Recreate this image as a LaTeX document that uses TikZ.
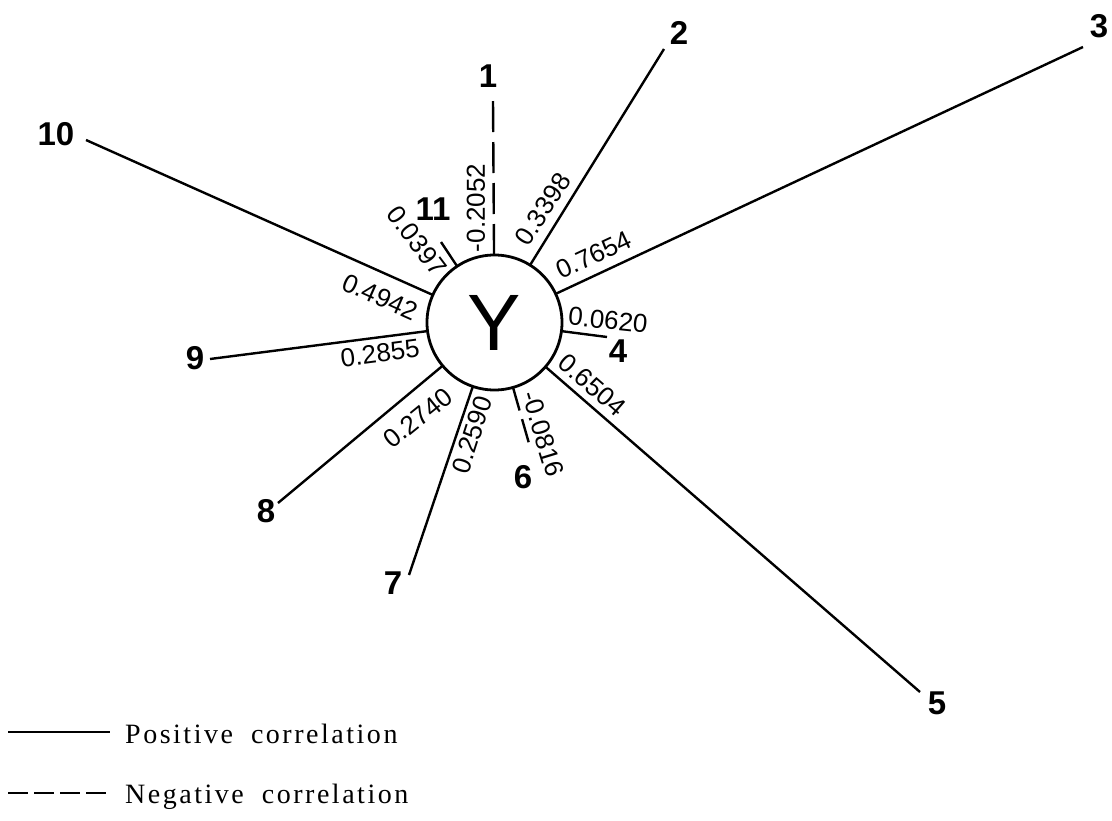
\documentclass[tikz,border=0pt]{standalone}
\usepackage{fontspec}
\setmainfont{Liberation Serif}
\newfontfamily\arialfont{Liberation Sans}
\begin{document}
\begin{tikzpicture}[x=1pt,y=-1pt,
  link/.style={line width=2.4pt},
  neglink/.style={link, dash pattern=on 31pt off 10pt},
  varlabel/.style={font=\arialfont\bfseries\fontsize{33}{33}\selectfont, inner sep=0pt},
  coef/.style={font=\arialfont\fontsize{26}{26}\selectfont, inner sep=0pt},
  legendtext/.style={font=\fontsize{28}{30}\selectfont\addfontfeatures{LetterSpace=9}, anchor=base west, inner sep=0pt}]

\useasboundingbox (0,0) rectangle (1112,821);

% central response variable
\node[draw, circle, line width=2.8pt, minimum size=135pt, inner sep=0pt, outer sep=0pt,
      font=\arialfont\fontsize{80}{80}\selectfont] (Y) at (494.5,322.5) {Y};

% outer ends of the spokes
\coordinate (e1) at (493,100);
\coordinate (e2) at (664,49);
\coordinate (e3) at (1083,47);
\coordinate (e4) at (607,337);
\coordinate (e5) at (920,692);
\coordinate (e6) at (530,447);
\coordinate (e7) at (409,575);
\coordinate (e8) at (278,503);
\coordinate (e9) at (210,359);
\coordinate (e10) at (86,140);
\coordinate (e11) at (441,242);

% factor numbers
\node[varlabel] (n1) at (488,76) {1};
\node[varlabel] (n2) at (679,33) {2};
\node[varlabel] (n3) at (1099,26) {3};
\node[varlabel] (n4) at (618,351) {4};
\node[varlabel] (n5) at (937,703) {5};
\node[varlabel] (n6) at (523,477) {6};
\node[varlabel] (n7) at (393,583) {7};
\node[varlabel] (n8) at (266,511) {8};
\node[varlabel] (n9) at (195,358) {9};
\node[varlabel] (n10) at (56,134) {10};
\node[varlabel] (n11) at (433,209) {11};

% spokes: solid = positive, dashed = negative
\draw[neglink] (Y) -- (e1);
\draw[link] (Y) -- (e2);
\draw[link] (Y) -- (e3);
\draw[link] (Y) -- (e4);
\draw[link] (Y) -- (e5);
\draw[neglink, dash pattern=on 24pt off 9pt] (Y) -- (e6);
\draw[link] (Y) -- (e7);
\draw[link] (Y) -- (e8);
\draw[link] (Y) -- (e9);
\draw[link] (Y) -- (e10);
\draw[link] (Y) -- (e11);

% correlation coefficients
\node[coef, rotate=90] (c1) at (476,208) {-0.2052};
\node[coef, rotate=57] (c2) at (543,209) {0.3398};
\node[coef, rotate=25] (c3) at (594,255) {0.7654};
\node[coef, rotate=-6] (c4) at (608,320) {0.0620};
\node[coef, rotate=-41] (c5) at (592,385) {0.6504};
\node[coef, rotate=-73] (c6) at (543,434) {-0.0816};
\node[coef, rotate=72] (c7) at (472,435) {0.2590};
\node[coef, rotate=39] (c8) at (418,418) {0.2740};
\node[coef, rotate=7.5] (c9) at (380,353) {0.2855};
\node[coef, rotate=-24] (c10) at (380,297) {0.4942};
\node[coef, rotate=-53] (c11) at (417,241) {0.0397};

% legend
\coordinate (lp1) at (8,732);
\coordinate (lp2) at (110,732);
\coordinate (ln1) at (8,793);
\coordinate (ln2) at (108,793);
\draw[link] (lp1) -- (lp2);
\draw[link, dash pattern=on 20pt off 6pt] (ln1) -- (ln2);
\node[legendtext] (lpos) at (125,743) {Positive\hspace{0.3em} correlation};
\node[legendtext] (lneg) at (125,803) {Negative\hspace{0.3em} correlation};
\end{tikzpicture}
\end{document}
